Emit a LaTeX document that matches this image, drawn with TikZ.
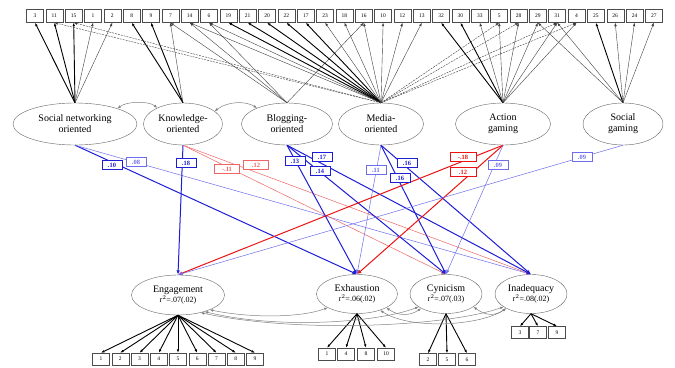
\documentclass[tikz,border=0pt]{standalone}
\usepackage{fontspec}
\setmainfont{Liberation Serif}
\usetikzlibrary{shapes.geometric,arrows.meta}
\definecolor{dblue}{RGB}{30,30,215}
\definecolor{lblue}{RGB}{110,110,235}
\definecolor{dred}{RGB}{235,20,20}
\definecolor{lred}{RGB}{240,100,100}
\definecolor{cgray}{RGB}{130,130,130}
\begin{document}
\begin{tikzpicture}[x=1pt,y=-1pt,
  lat/.style={ellipse, draw=black!60, fill=white, inner sep=0pt, align=center, font=\fontsize{10}{11}\selectfont},
  ibox/.style={draw=black!70, fill=white, minimum width=17pt, minimum height=13pt, inner sep=0pt, font=\fontsize{5.5}{6}\selectfont},
  ld/.style={-{Latex[length=3.5pt,width=2.6pt]}, black, line width=0.9pt},
  lt/.style={-{Latex[length=3.5pt,width=2.6pt]}, black!75, line width=0.4pt},
  ldash/.style={lt, dash pattern=on 2pt off 1pt},
  pdb/.style={-{Latex[length=4.5pt,width=3.5pt]}, dblue, line width=1pt},
  plb/.style={-{Latex[length=4.5pt,width=3.5pt]}, lblue, line width=0.5pt},
  pdr/.style={-{Latex[length=4.5pt,width=3.5pt]}, dred, line width=1pt},
  plr/.style={-{Latex[length=4.5pt,width=3.5pt]}, lred, line width=0.5pt},
  coef/.style={draw, fill=white, inner sep=0.5pt, minimum width=20pt, minimum height=9pt, font=\fontsize{6.5}{7}\selectfont\bfseries},
  corr/.style={{Latex[length=3.5pt,width=2.6pt]}-{Latex[length=3.5pt,width=2.6pt]}, cgray, line width=0.5pt}
]
\useasboundingbox (0,0) rectangle (675,367);
\fill[white] (0,0) rectangle (675,367);

% indicator boxes top
\foreach \lab [count=\i] in {3,11,15,1,2,8,9,7,14,6,19,21,20,22,17,23,18,16,10,12,13,32,30,33,5,28,29,31,4,25,26,24,27}
  \node[ibox] (i\lab) at ({35+19.34*(\i-1)},16) {\lab};

% latent predictors
\node[lat, minimum width=124pt, minimum height=42pt] (sn) at (75,124) {Social networking\\oriented};
\node[lat, minimum width=79pt, minimum height=42pt] (kn) at (183,124) {Knowledge-\\oriented};
\node[lat, minimum width=91pt, minimum height=42pt] (bl) at (287,124) {Blogging-\\oriented};
\node[lat, minimum width=85pt, minimum height=42pt] (md) at (381,124) {Media-\\oriented};
\node[lat, minimum width=95pt, minimum height=42pt] (ag) at (503,124) {Action\\gaming};
\node[lat, minimum width=80pt, minimum height=42pt] (sg) at (623,124) {Social\\gaming};

% outcomes
\node[lat, minimum width=93pt, minimum height=40pt] (eng) at (178,295) {Engagement\\[-1pt]{\fontsize{8}{9}\selectfont r$^2$=.07(.02)}};
\node[lat, minimum width=81pt, minimum height=39pt] (exh) at (357,294) {Exhaustion\\[-1pt]{\fontsize{8}{9}\selectfont r$^2$=.06(.02)}};
\node[lat, minimum width=72pt, minimum height=39pt] (cyn) at (446,294) {Cynicism\\[-1pt]{\fontsize{8}{9}\selectfont r$^2$=.07(.03)}};
\node[lat, minimum width=72pt, minimum height=39pt] (ina) at (531,294) {Inadequacy\\[-1pt]{\fontsize{8}{9}\selectfont r$^2$=.08(.02)}};

% bottom indicator boxes
\foreach \lab [count=\i] in {1,...,9}
  \node[ibox, minimum height=12pt] (e\lab) at ({101+19.25*(\i-1)},359) {\lab};
\node[ibox, minimum height=12pt] (x1) at (327,354) {1};
\node[ibox, minimum height=12pt] (x4) at (346,354) {4};
\node[ibox, minimum height=12pt] (x8) at (366,354) {8};
\node[ibox, minimum height=12pt] (x10) at (386,354) {10};
\node[ibox, minimum height=12pt] (c2) at (428,359.5) {2};
\node[ibox, minimum height=12pt] (c5) at (447,359.5) {5};
\node[ibox, minimum height=12pt] (c6) at (467,359.5) {6};
\node[ibox, minimum height=12pt] (a3) at (520,332.5) {3};
\node[ibox, minimum height=12pt] (a7) at (538,332.5) {7};
\node[ibox, minimum height=12pt] (a9) at (557,332.5) {9};

% loadings top
\foreach \t in {3,11,15} \draw[ld] (sn.north) -- (i\t.south);
\foreach \t in {1,2} \draw[lt] (sn.north) -- (i\t.south);
\foreach \t in {8,9} \draw[ld] (kn.north) -- (i\t.south);
\draw[lt] (kn.north) -- (i7.south);
\foreach \t in {7,14,6,16} \draw[lt] (bl.north) -- (i\t.south);
\foreach \t in {19,21,20,22,17} \draw[ld] (md.north) -- (i\t.south);
\foreach \t in {14,6,23,18,16,10,12,13} \draw[lt] (md.north) -- (i\t.south);
\foreach \t in {11,15,5,28,31,4} \draw[ldash] (md.north) -- (i\t.south);
\foreach \t in {32,30} \draw[ld] (ag.north) -- (i\t.south);
\foreach \t in {33,5,28,29,31,4} \draw[lt] (ag.north) -- (i\t.south);
\draw[ld] (sg.north) -- (i25.south);
\foreach \t in {26,24,27,29,31} \draw[lt] (sg.north) -- (i\t.south);

% loadings bottom
\foreach \t in {1,...,9} \draw[ld] (eng.south) -- (e\t.north);
\foreach \t in {1,4,8,10} \draw[ld] (exh.south) -- (x\t.north);
\foreach \t in {2,5,6} \draw[ld] (cyn.south) -- (c\t.north);
\foreach \t in {3,7,9} \draw[ld] (ina.south) -- (a\t.north);

% correlations
\draw[corr] (sn.20) .. controls (127,101) and (149,101) .. (kn.148);
\draw[corr] (kn.22) .. controls (228,101) and (246,101) .. (bl.152);
\draw[corr] (eng.-25) .. controls (250,318) and (300,318) .. (exh.-155);
\draw[corr] (eng.-32) .. controls (280,330) and (380,322) .. (cyn.-155);
\draw[corr] (eng.-38) .. controls (300,334) and (450,326) .. (ina.-155);
\draw[corr] (exh.-25) .. controls (398,316) and (410,316) .. (cyn.-150);
\draw[corr] (exh.-35) .. controls (410,330) and (480,326) .. (ina.-150);
\draw[corr] (cyn.-25) .. controls (486,316) and (495,316) .. (ina.-150);

% structural paths
\draw[pdb] (sn.south) -- (exh.north);
\draw[plb] (sn.south) -- (ina.north);
\draw[pdb] (kn.south) -- (eng.north);
\draw[plr] (kn.south) -- (cyn.north);
\draw[plr] (kn.south) -- (ina.north);
\draw[pdb] (bl.south) -- (exh.north);
\draw[pdb] (bl.south) -- (ina.north);
\draw[pdb] (bl.south) -- (cyn.north);
\draw[plb] (md.south) -- (exh.north);
\draw[pdb] (md.south) -- (ina.north);
\draw[pdb] (md.south) -- (cyn.north);
\draw[pdr] (ag.south) -- (eng.north);
\draw[pdr] (ag.south) -- (exh.north);
\draw[plb] (ag.south) -- (cyn.north);
\draw[plb] (sg.south) -- (eng.north);

% coefficients
\node[coef, draw=dblue, text=dblue] (k1) at (112,165) {.10};
\node[coef, draw=lblue, text=lblue] (k2) at (136,162) {.08};
\node[coef, draw=dblue, text=dblue] (k3) at (186,163) {.18};
\node[coef, draw=lred, text=lred, minimum width=25pt] (k4) at (227,169) {-.11};
\node[coef, draw=lred, text=lred, minimum width=25pt] (k5) at (256,165) {.12};
\node[coef, draw=dblue, text=dblue] (k6) at (295,161) {.13};
\node[coef, draw=dblue, text=dblue] (k7) at (322,157) {.17};
\node[coef, draw=dblue, text=dblue] (k8) at (320,171) {.14};
\node[coef, draw=lblue, text=lblue] (k9) at (376,170) {.11};
\node[coef, draw=dblue, text=dblue] (k10) at (407,163) {.16};
\node[coef, draw=dblue, text=dblue] (k11) at (400,178) {.16};
\node[coef, draw=dred, text=dred, minimum width=26pt] (k12) at (463,157) {-.18};
\node[coef, draw=dred, text=dred, minimum width=26pt] (k13) at (463,172) {.12};
\node[coef, draw=lblue, text=lblue] (k14) at (498,165) {.09};
\node[coef, draw=lblue, text=lblue] (k15) at (582,157) {.09};
\end{tikzpicture}
\end{document}
